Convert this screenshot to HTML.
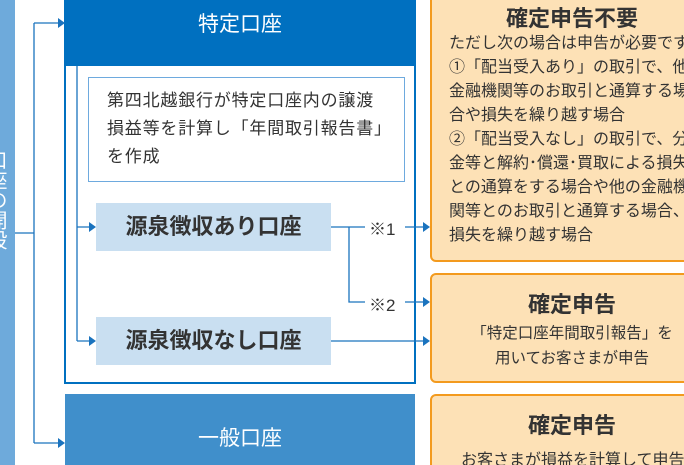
<!DOCTYPE html><html><head><meta charset="utf-8"><style>
html,body{margin:0;width:684px;height:465px;overflow:hidden}
body{background:#fff;position:relative;font-family:"Liberation Sans","Noto Sans CJK JP",sans-serif;color:#333}
div{position:absolute;box-sizing:border-box}
.ob{background:#fde1b6;border:2px solid #f39a1e;border-radius:6px;left:430px;width:270px}
.t{font-weight:bold;font-size:22px;text-align:center}
</style></head><body>
<div style="left:0;top:0;width:15px;height:465px;background:#6eaadb;overflow:hidden"><div style="left:-15px;top:150px;color:#fff;font-size:20px;writing-mode:vertical-rl;line-height:20px">口座の開設</div></div>
<div style="left:64px;top:0;width:352px;height:66px;background:#0070c0;color:#fff;font-size:21px;text-align:center;line-height:50px">特定口座</div>
<div style="left:64px;top:64px;width:352px;height:320px;border:2px solid #0070c0;border-top:none"></div>
<div style="left:88px;top:77px;width:317px;height:105px;border:1px solid #6eaade;padding:9px 0 0 18px;font-size:17px;letter-spacing:0.8px;line-height:28px;white-space:nowrap">第四北越銀行が特定口座内の譲渡<br>損益等を計算し「年間取引報告書」<br>を作成</div>
<div style="left:96px;top:203px;width:235px;height:48px;background:#c9dff1;font-weight:bold;font-size:22px;text-align:center;line-height:48px">源泉徴収あり口座</div>
<div style="left:96px;top:317px;width:235px;height:48px;background:#c9dff1;font-weight:bold;font-size:22px;text-align:center;line-height:48px">源泉徴収なし口座</div>
<div style="left:65px;top:394px;width:350px;height:71px;background:#408fcb;color:#fff;font-size:21px;text-align:center;line-height:90px">一般口座</div>
<div style="left:369px;top:215px;font-size:17px">※1</div>
<div style="left:369px;top:291px;font-size:17px">※2</div>
<svg width="684" height="465" style="position:absolute;left:0;top:0" fill="none" stroke="#1a73be" stroke-width="1.3">
<path d="M15 233H34M34 23V443M34 23H58M34 443H58M77 66V341M77 227H90M77 341H90M331 227H365M349 227V302H365M405 227H424M405 302H424M331 341H424"/>
<g fill="#1a73be" stroke="none"><path d="M58 18l7 5-7 5zM58 438l7 5-7 5zM89 222l7 5-7 5zM89 336l7 5-7 5zM423 222l7 5-7 5zM423 297l7 5-7 5zM423 336l7 5-7 5z"/></g>
</svg>
<div class="ob" style="top:-10px;height:272px"><div class="t" style="top:9px;left:0;width:280px">確定申告不要</div>
<div style="left:17px;top:40px;font-size:16px;line-height:24px;white-space:nowrap">ただし次の場合は申告が必要です<br>①「配当受入あり」の取引で、他の<br>金融機関等のお取引と通算する場<br>合や損失を繰り越す場合<br>②「配当受入なし」の取引で、分配<br>金等と解約･償還･買取による損失<br>との通算をする場合や他の金融機<br>関等とのお取引と通算する場合、<br>損失を繰り越す場合</div></div>
<div class="ob" style="top:273px;height:110px"><div class="t" style="top:12px;left:0;width:280px">確定申告</div>
<div style="left:0;top:46px;width:280px;text-align:center;font-size:15.5px;line-height:25px;white-space:nowrap">「特定口座年間取引報告」を<br>用いてお客さまが申告</div></div>
<div class="ob" style="top:394px;height:90px"><div class="t" style="top:12px;left:0;width:280px">確定申告</div>
<div style="left:29px;top:50px;font-size:16px;white-space:nowrap">お客さまが損益を計算して申告</div></div>
</body></html>
